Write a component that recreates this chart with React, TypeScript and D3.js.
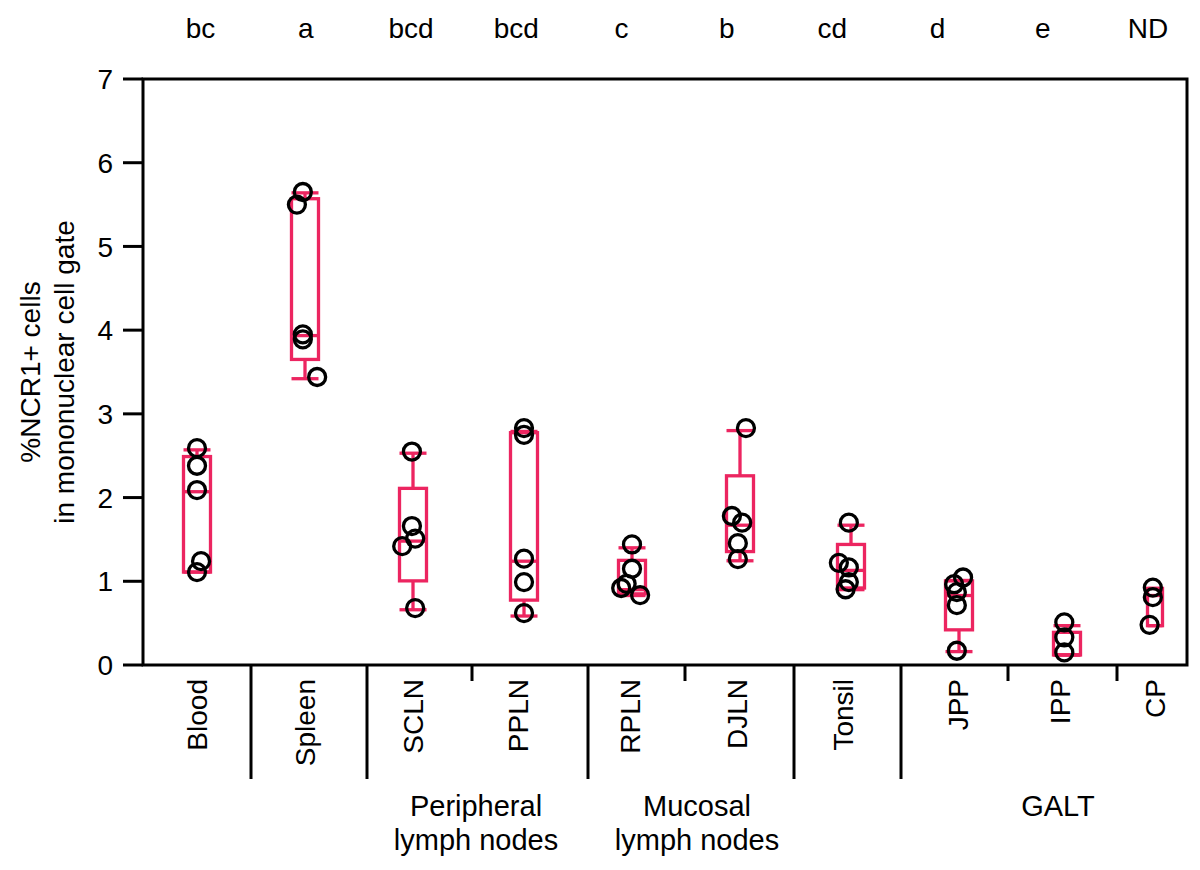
import React from "react";
import * as d3 from "d3";

// ---------- data ----------
const categories = ["Blood", "Spleen", "SCLN", "PPLN", "RPLN", "DJLN", "Tonsil", "JPP", "IPP", "CP"];
const letters = ["bc", "a", "bcd", "bcd", "c", "b", "cd", "d", "e", "ND"];

// box statistics: [lowWhisker, q1, median, q3, highWhisker]
const boxStats: number[][] = [
  [1.11, 1.11, 2.07, 2.49, 2.57],
  [3.42, 3.65, 3.935, 5.57, 5.64],
  [0.66, 1.005, 1.48, 2.11, 2.53],
  [0.585, 0.775, 1.24, 2.775, 2.79],
  [0.83, 0.85, 0.9, 1.25, 1.4],
  [1.245, 1.355, 1.67, 2.26, 2.8],
  [0.9, 0.92, 1.13, 1.44, 1.67],
  [0.16, 0.42, 0.83, 1.005, 1.01],
  [0.12, 0.12, 0.12, 0.39, 0.47],
  [0.47, 0.47, 0.83, 0.915, 0.915],
];

// individual points per category
const pointValues: number[][] = [
  [2.59, 2.38, 2.09, 1.24, 1.11],
  [5.65, 5.5, 3.95, 3.89, 3.44],
  [2.55, 1.66, 1.51, 1.42, 0.68],
  [2.83, 2.75, 1.27, 0.99, 0.62],
  [1.44, 1.15, 0.97, 0.92, 0.835],
  [2.83, 1.78, 1.7, 1.455, 1.265],
  [1.7, 1.22, 1.165, 0.99, 0.905],
  [1.045, 0.965, 0.87, 0.715, 0.17],
  [0.51, 0.33, 0.15],
  [0.925, 0.81, 0.48],
];
// horizontal jitter of the points (fraction of box width)
const pointJitter: number[][] = [
  [0, 0, 0, 0.15, 0],
  [-0.08, -0.3, -0.08, -0.08, 0.45],
  [-0.04, -0.04, 0.08, -0.4, 0.08],
  [0, 0, 0, 0, 0],
  [0, 0, -0.2, -0.4, 0.3],
  [0.22, -0.3, 0.08, -0.08, -0.08],
  [-0.08, -0.45, -0.08, -0.08, -0.2],
  [0.15, -0.18, -0.08, -0.08, -0.08],
  [-0.1, -0.1, -0.1],
  [-0.08, -0.08, -0.2],
];

const yTicks = [0, 1, 2, 3, 4, 5, 6, 7];
const yLabelLines = ["%NCR1+ cells", "in mononuclear cell gate"];

const separators = [
  { between: ["Blood", "Spleen"], long: true },
  { between: ["Spleen", "SCLN"], long: true },
  { between: ["SCLN", "PPLN"], long: false },
  { between: ["PPLN", "RPLN"], long: true },
  { between: ["RPLN", "DJLN"], long: false },
  { between: ["DJLN", "Tonsil"], long: true },
  { between: ["Tonsil", "JPP"], long: true },
  { between: ["JPP", "IPP"], long: false },
  { between: ["IPP", "CP"], long: false },
];

const groups = [
  { lines: ["Peripheral", "lymph nodes"], members: ["SCLN", "PPLN"] },
  { lines: ["Mucosal", "lymph nodes"], members: ["RPLN", "DJLN"] },
  { lines: ["GALT"], members: ["JPP", "IPP", "CP"] },
];

// ---------- layout ----------
const W = 1200;
const H = 870;
const left = 143;
const right = 1187;
const top = 79;
const bottom = 665;
const PINK = "#ec2560";
const FONT = "'Liberation Sans', Arial, Helvetica, sans-serif";
const FS = 28;

export default function App() {
  const y = d3.scaleLinear().domain([0, 7]).range([bottom, top]);
  const xBox = d3
    .scaleOrdinal<string, number>()
    .domain(categories)
    .range([197, 305, 413, 524, 632, 740, 851, 959, 1067, 1155]);
  const xLabel = d3
    .scaleOrdinal<string, number>()
    .domain(categories)
    .range([197, 305, 413, 518, 630, 737, 843, 958, 1060, 1155]);
  const xLetter = d3.scalePoint<string>().domain(categories).range([200.5, 1148]);
  const sepX = d3
    .scaleOrdinal<string, number>()
    .domain(separators.map((s) => s.between.join("-")))
    .range([251, 367, 472, 588, 685, 794, 901, 1008, 1117]);
  const groupX = d3
    .scaleOrdinal<string, number>()
    .domain(groups.map((g) => g.lines[0]))
    .range([476, 697, 1058]);

  const boxW = (c: string) => (c === "CP" ? 15 : 27);

  return (
    <div style={{ position: "absolute", left: 0, top: 0 }}>
      <svg width={W} height={H} style={{ display: "block", background: "#fff" }} fontFamily={FONT}>
        {/* top letters */}
        {categories.map((c, i) => (
          <text key={"l" + c} x={xLetter(c)} y={38} textAnchor="middle" fontSize={FS} fill="#000">
            {letters[i]}
          </text>
        ))}

        {/* y axis label */}
        {yLabelLines.map((t, i) => (
          <text
            key={"yl" + i}
            transform={`translate(${40 + i * 34},${(top + bottom) / 2}) rotate(-90)`}
            textAnchor="middle"
            fontSize={FS}
            fill="#000"
          >
            {t}
          </text>
        ))}

        {/* y ticks */}
        {yTicks.map((t) => (
          <g key={"t" + t}>
            <line x1={123} x2={left} y1={y(t)} y2={y(t)} stroke="#000" strokeWidth={3} />
            <text x={113} y={y(t)} dy="0.36em" textAnchor="end" fontSize={FS} fill="#000">
              {t}
            </text>
          </g>
        ))}

        {/* frame */}
        <rect x={left} y={top} width={right - left} height={bottom - top} fill="none" stroke="#000" strokeWidth={3} />

        {/* separators */}
        {separators.map((s) => {
          const key = s.between.join("-");
          return (
            <line
              key={"s" + key}
              x1={sepX(key)}
              x2={sepX(key)}
              y1={bottom}
              y2={s.long ? 779 : 681}
              stroke="#000"
              strokeWidth={3}
            />
          );
        })}

        {/* category labels */}
        {categories.map((c) => (
          <text
            key={"c" + c}
            transform={`translate(${xLabel(c)},${679}) rotate(-90)`}
            dy="0.36em"
            textAnchor="end"
            fontSize={FS}
            fill="#000"
          >
            {c}
          </text>
        ))}

        {/* group labels */}
        {groups.map((g) =>
          g.lines.map((ln, j) => (
            <text
              key={"g" + g.lines[0] + j}
              x={groupX(g.lines[0])}
              y={816 + j * 34}
              textAnchor="middle"
              fontSize={29}
              fill="#000"
            >
              {ln}
            </text>
          ))
        )}

        {/* boxes */}
        {categories.map((c, i) => {
          const [lo, q1, med, q3, hi] = boxStats[i];
          const cx = xBox(c);
          const w = boxW(c);
          const half = w / 2;
          return (
            <g key={"b" + c} stroke={PINK} strokeWidth={3.3} fill="none">
              <line x1={cx} x2={cx} y1={y(q3)} y2={y(hi)} />
              <line x1={cx} x2={cx} y1={y(q1)} y2={y(lo)} />
              <line x1={cx - half} x2={cx + half} y1={y(hi)} y2={y(hi)} />
              <line x1={cx - half} x2={cx + half} y1={y(lo)} y2={y(lo)} />
              <rect x={cx - half} y={y(q3)} width={w} height={y(q1) - y(q3)} />
              <line x1={cx - half} x2={cx + half} y1={y(med)} y2={y(med)} />
            </g>
          );
        })}

        {/* points */}
        {categories.map((c, i) =>
          pointValues[i].map((v, j) => (
            <circle
              key={"p" + c + j}
              cx={xBox(c) + pointJitter[i][j] * 27}
              cy={y(v)}
              r={8.5}
              fill="none"
              stroke="#000"
              strokeWidth={3.3}
            />
          ))
        )}
      </svg>
    </div>
  );
}
